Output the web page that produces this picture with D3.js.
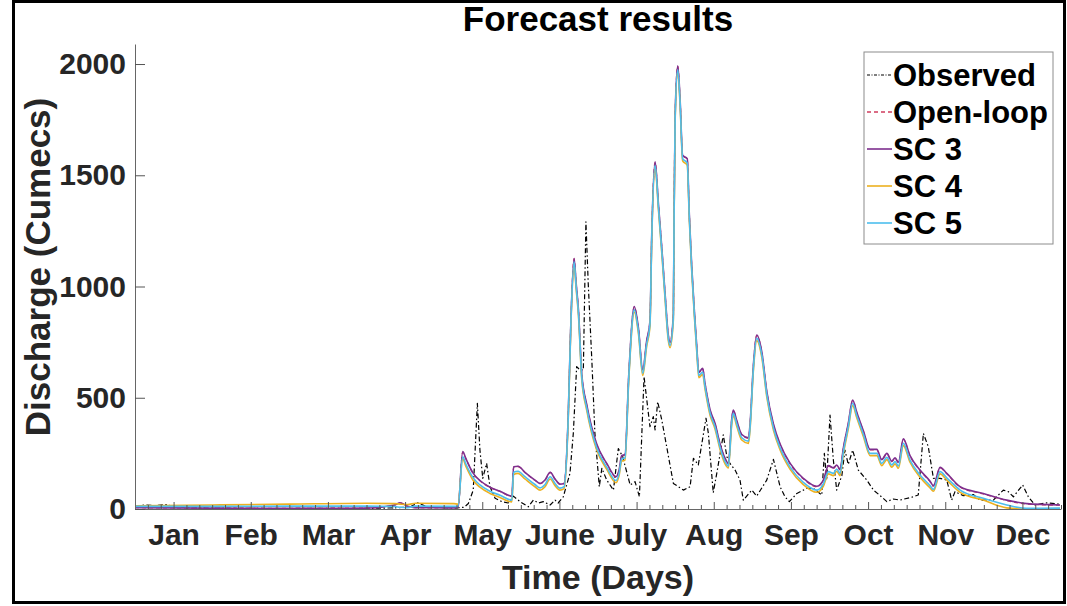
<!DOCTYPE html>
<html>
<head>
<meta charset="utf-8">
<script src="https://cdn.jsdelivr.net/npm/d3@7"></script>
<style>
  html, body { margin: 0; padding: 0; background: #fff; }
  svg { display: block; }
  text { font-family: "Liberation Sans", Arial, sans-serif; font-weight: bold; }
</style>
</head>
<body>
<svg id="chart" width="1067" height="606"></svg>
<script>
// ---- axis labels / ticks ----
const months = ["Jan", "Feb", "Mar", "Apr", "May", "June", "July", "Aug", "Sep", "Oct", "Nov", "Dec"];
const monthTickDays = [15, 45, 75, 105, 135, 165, 195, 225, 255, 285, 315, 345];
const yTicks = [0, 500, 1000, 1500, 2000];

// ---- observed discharge (day of year, cumecs) ----
const obsDays = [0, 4, 8, 12, 16, 25, 41, 56, 72, 87, 101, 107, 110, 113, 119, 124, 128,
  129.6, 131.5, 133.1, 134.1, 135.2, 136.7, 138.0, 140.0, 142.6, 145.1, 147.1, 149.7, 152.9,
  154.9, 156.8, 158.7, 161.4, 163.3, 164.5, 166.5, 169.1, 170.4, 171.7, 173.0, 174.3, 175.3,
  176.2, 177.6, 178.8, 180.5, 181.5, 183.4, 186.0, 187.9, 189.6, 192.5, 194.4, 196.1, 197.9,
  200.2, 201.5, 202.2, 203.2, 204.8, 206.7, 209.3, 213.2, 215.8, 217.1, 219.0, 222.0, 222.9,
  224.8, 226.4, 228.7, 230.1, 231.3, 233.3, 235.2, 236.5, 239.8, 241.7, 245.6, 248.2, 250.8,
  252.7, 254.4, 257.3, 261.2, 263.7, 267.0, 268.0, 268.9, 270.2, 271.5, 272.8, 274.8, 276.0,
  277.3, 279.0, 281.2, 284.5, 287.1, 289.7, 292.3, 294.8, 297.4, 302.6, 304.5, 306.5, 308.4,
  310.4, 313.0, 315.6, 317.5, 318.8, 322.0, 325.9, 328.5, 333.7, 337.6, 339.5, 341.5, 345.1,
  347.3, 349.9, 354.5, 359.6];
const obsValues = [12, 18, 15, 20, 8, 5, 3, 2, 3, 2, 5, 10, 28, 12, 6, 4, 8,
  25, 85, 475, 265, 138, 205, 100, 48, 33, 27, 58, 33, 10,
  40, 27, 33, 18, 40, 27, 55, 160, 340, 640, 625, 625, 1291,
  1014, 670, 340, 100, 183, 130, 85, 272, 235, 108, 123, 55, 595,
  370, 415, 355, 482, 400, 280, 115, 85, 100, 228, 198, 408, 340,
  73, 175, 333, 235, 205, 175, 130, 40, 85, 58, 130, 223, 100,
  55, 33, 70, 93, 93, 63, 250, 130, 422, 220, 85, 150, 265,
  200, 265, 175, 130, 85, 60, 33, 45, 40, 55, 63, 340, 280,
  138, 138, 130, 40, 78, 60, 65, 40, 40, 85, 78, 55, 108,
  55, 18, 28, 22];

// ---- simulated discharge (shared day axis for all model runs) ----
const simDays = [0, 30, 60, 90, 101, 103, 106, 109, 124, 125.6,
  127.4, 128.7, 131.5, 134.1, 138, 141.9, 146.5, 147.2, 148.9, 151.6,
  155.5, 157.5, 159.4, 161.4, 163.3, 165.2, 166.8, 168.4, 169.5, 170.7,
  171.5, 172.4, 173.7, 175.6, 179.5, 183.4, 187, 188.2, 189.2, 190.5,
  192, 194.1, 195.7, 197.4, 198.9, 200.2, 200.9, 202.2, 203.5, 204.8,
  206.1, 207.3, 208, 209.3, 209.6, 210, 211, 211.9, 212.9, 214.7,
  215.5, 216.4, 217.5, 218.4, 219.2, 220.7, 221.6, 223.6, 225.5, 227.4,
  229.4, 230.7, 232, 232.6, 234, 235.9, 238.5, 239.1, 240.4, 241.7,
  243.7, 245.6, 248.2, 250.8, 254.7, 259.8, 265, 267.6, 269.6, 271.5,
  272.8, 274.1, 275.4, 277.3, 279, 280.6, 283.2, 285.8, 288.4, 290.3,
  292.3, 294.2, 295.5, 296.8, 298.7, 301.3, 305.2, 309.1, 310.4, 313,
  315.6, 320.8, 329.8, 338.9, 346.7, 359.6];

const openLoop = [6, 4, 3, 4, 18, 28, 12, 6, 5, 8,
  256, 224, 159, 127, 97, 79, 57, 188, 191, 164,
  129, 114, 129, 164, 134, 111, 114, 408, 858, 1125,
  1013, 893, 603, 468, 290, 203, 143, 173, 238, 243,
  610, 908, 813, 623, 753, 843, 1233, 1558, 1368, 1173,
  963, 783, 748, 873, 1353, 1773, 1990, 1843, 1588, 1573,
  1323, 1098, 883, 728, 613, 630, 563, 443, 383, 293,
  226, 203, 403, 443, 393, 333, 318, 378, 643, 780,
  703, 528, 380, 290, 203, 136, 100, 128, 193, 183,
  196, 176, 273, 383, 488, 433, 348, 266, 266, 220,
  248, 213, 228, 208, 313, 238, 173, 123, 103, 185,
  158, 98, 68, 38, 22, 17];

const sc3 = [6, 4, 3, 4, 18, 28, 12, 6, 5, 8,
  258, 225, 160, 128, 98, 80, 58, 190, 192, 165,
  130, 115, 130, 165, 135, 112, 115, 410, 860, 1127,
  1015, 895, 605, 470, 292, 205, 145, 175, 240, 245,
  612, 910, 815, 625, 755, 845, 1235, 1560, 1370, 1175,
  965, 785, 750, 875, 1355, 1775, 1992, 1845, 1590, 1575,
  1325, 1100, 885, 730, 615, 632, 565, 445, 385, 295,
  228, 205, 405, 445, 395, 335, 320, 380, 645, 782,
  705, 530, 382, 292, 205, 138, 102, 130, 195, 185,
  198, 178, 275, 385, 490, 435, 350, 268, 268, 222,
  250, 215, 230, 210, 315, 240, 175, 125, 105, 187,
  160, 100, 70, 40, 24, 18];

const sc4 = [14, 18, 22, 26, 24, 22, 20, 26, 24, 22,
  225, 190, 128, 98, 70, 52, 32, 155, 160, 135,
  100, 85, 100, 135, 105, 85, 92, 390, 840, 1100,
  990, 870, 580, 445, 265, 178, 118, 150, 215, 220,
  590, 885, 790, 600, 730, 820, 1210, 1535, 1345, 1150,
  940, 760, 725, 850, 1330, 1750, 1965, 1820, 1565, 1545,
  1300, 1075, 860, 705, 590, 605, 540, 420, 360, 270,
  203, 185, 380, 420, 370, 310, 295, 355, 620, 757,
  680, 505, 355, 265, 178, 110, 75, 102, 158, 150,
  170, 150, 248, 360, 465, 410, 325, 240, 240, 195,
  222, 188, 203, 183, 285, 210, 143, 95, 80, 158,
  130, 75, 40, 5, 0, 2];

const sc5 = [12, 12, 13, 13, 11, 8, 6, 13, 12, 12,
  235, 200, 140, 108, 80, 62, 40, 165, 170, 145,
  110, 95, 110, 145, 115, 94, 100, 400, 850, 1111,
  1000, 880, 590, 455, 275, 188, 128, 160, 225, 230,
  600, 895, 800, 610, 740, 830, 1220, 1545, 1355, 1160,
  950, 770, 735, 860, 1340, 1760, 1975, 1830, 1575, 1555,
  1310, 1085, 870, 715, 600, 615, 550, 430, 370, 280,
  213, 193, 390, 430, 380, 320, 305, 365, 630, 767,
  690, 515, 365, 275, 188, 120, 85, 112, 168, 160,
  180, 160, 258, 370, 475, 420, 335, 250, 250, 205,
  232, 198, 213, 193, 295, 220, 153, 105, 88, 168,
  140, 85, 48, 18, 3, 4];

// ---- drawing ----
const svg = d3.select("#chart");
const x = d3.scaleLinear().domain([0, 360]).range([135, 1061]);
const y = d3.scaleLinear().domain([0, 2090]).range([509, 44]);

// figure frame
svg.append("rect")
  .attr("x", 13.5).attr("y", 1.5).attr("width", 1051).attr("height", 601)
  .attr("fill", "#fff").attr("stroke", "#000").attr("stroke-width", 3);

const series = [
  { name: "Observed",  days: obsDays, vals: obsValues, color: "#000000", width: 1.2, dash: "5,2.5,1.5,2.5", legendDash: "3,1.5,1,1.5", curve: d3.curveLinear },
  { name: "Open-loop", days: simDays, vals: openLoop,  color: "#D03C5E", width: 1.3, dash: "4,3",           legendDash: "4,3",         curve: d3.curveMonotoneX },
  { name: "SC 3",      days: simDays, vals: sc3,       color: "#7E2F8E", width: 1.6, dash: null,            legendDash: null,          curve: d3.curveMonotoneX },
  { name: "SC 4",      days: simDays, vals: sc4,       color: "#EDB120", width: 1.6, dash: null,            legendDash: null,          curve: d3.curveMonotoneX },
  { name: "SC 5",      days: simDays, vals: sc5,       color: "#4DBEEE", width: 1.6, dash: null,            legendDash: null,          curve: d3.curveMonotoneX }
];

const plot = svg.append("g");
series.forEach(s => {
  const pts = s.days.map((d, i) => [d, s.vals[i]]);
  const line = d3.line().x(d => x(d[0])).y(d => y(d[1])).curve(s.curve);
  plot.append("path")
    .attr("d", line(pts))
    .attr("fill", "none")
    .attr("stroke", s.color)
    .attr("stroke-width", s.width)
    .attr("stroke-linejoin", "round")
    .attr("stroke-dasharray", s.dash);
});

// x axis: minor ticks every 5 days, major ticks at mid-month with labels
const minorDays = d3.range(0, 361, 5).filter(d => !monthTickDays.includes(d));
svg.append("g")
  .attr("transform", "translate(0,509)")
  .call(d3.axisBottom(x).tickValues(minorDays).tickFormat("").tickSizeInner(-4).tickSizeOuter(0))
  .call(g => g.select(".domain").remove())
  .call(g => g.selectAll(".tick line").attr("stroke", "#555"));

svg.append("g")
  .attr("transform", "translate(0,509)")
  .call(d3.axisBottom(x).tickValues(monthTickDays).tickFormat((d, i) => months[i])
    .tickSizeInner(-7).tickSizeOuter(0).tickPadding(15))
  .call(g => g.select(".domain").attr("stroke", "#666"))
  .call(g => g.selectAll(".tick line").attr("stroke", "#555"))
  .call(g => g.selectAll(".tick text")
    .attr("font-size", 30).attr("font-family", "Liberation Sans, Arial, sans-serif")
    .attr("font-weight", "bold").attr("fill", "#262626"));

// y axis
svg.append("g")
  .attr("transform", "translate(135,0)")
  .call(d3.axisLeft(y).tickValues(yTicks).tickFormat(d3.format("d"))
    .tickSizeInner(-10).tickSizeOuter(0).tickPadding(9))
  .call(g => g.select(".domain").attr("stroke", "#666"))
  .call(g => g.selectAll(".tick line").attr("stroke", "#555"))
  .call(g => g.selectAll(".tick text")
    .attr("font-size", 30).attr("font-family", "Liberation Sans, Arial, sans-serif")
    .attr("font-weight", "bold").attr("fill", "#262626"));

// titles
svg.append("text")
  .attr("x", 598).attr("y", 31).attr("text-anchor", "middle")
  .attr("font-size", 35).attr("fill", "#000")
  .text("Forecast results");

svg.append("text")
  .attr("x", 598).attr("y", 589).attr("text-anchor", "middle")
  .attr("font-size", 34).attr("fill", "#262626")
  .text("Time (Days)");

svg.append("text")
  .attr("transform", "translate(50,267) rotate(-90)")
  .attr("text-anchor", "middle")
  .attr("font-size", 35).attr("fill", "#262626")
  .text("Discharge (Cumecs)");

// legend
const lg = svg.append("g");
lg.append("rect")
  .attr("x", 864).attr("y", 52).attr("width", 189).attr("height", 192)
  .attr("fill", "#fff").attr("stroke", "#8c8c8c").attr("stroke-width", 1);
series.forEach((s, i) => {
  const cy = 75 + i * 37;
  lg.append("line")
    .attr("x1", 867).attr("x2", 892).attr("y1", cy).attr("y2", cy)
    .attr("stroke", s.color).attr("stroke-width", s.width)
    .attr("stroke-dasharray", s.legendDash);
  lg.append("text")
    .attr("x", 893).attr("y", cy + 11)
    .attr("font-size", 31).attr("fill", "#000")
    .text(s.name);
});
</script>
</body>
</html>
